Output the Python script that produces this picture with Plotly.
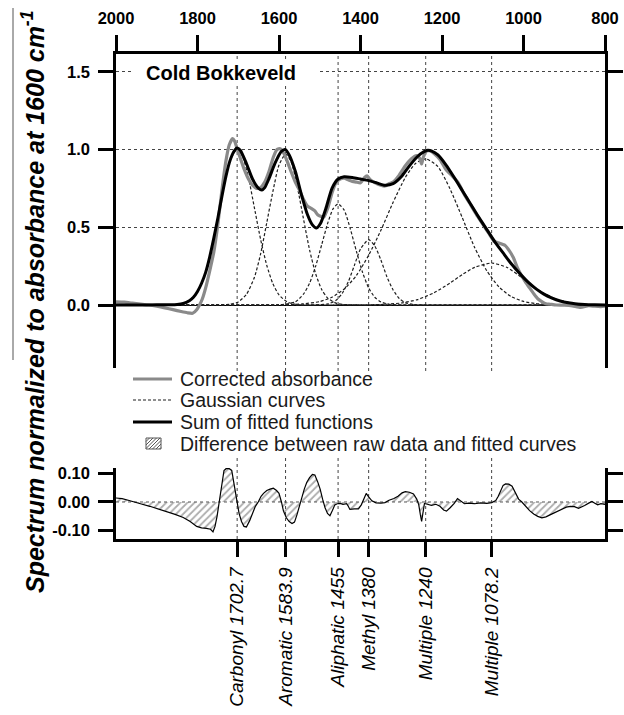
import plotly.graph_objects as go

# ---------------- data ----------------
top_ticks = [2000, 1800, 1600, 1400, 1200, 1000, 800]

peak_wn = [1702.7, 1583.9, 1455, 1380, 1240, 1078.2]
peak_names = ["Carbonyl", "Aromatic", "Aliphatic", "Methyl", "Multiple", "Multiple"]

# corrected absorbance (grey)
gray_wn = [2000, 1980, 1960, 1940, 1920, 1900, 1880, 1860, 1840, 1825, 1812, 1802, 1795, 1788,
           1780, 1770, 1760, 1750, 1740, 1730, 1722, 1714, 1709, 1704, 1695, 1685, 1675, 1665,
           1655, 1645, 1635, 1625, 1614, 1605, 1597, 1588, 1580, 1570, 1560, 1550, 1540, 1530,
           1520, 1512, 1505, 1498, 1490, 1480, 1470, 1460, 1450, 1440, 1430, 1420, 1410, 1400,
           1391, 1384, 1376, 1365, 1350, 1340, 1330, 1320, 1305, 1290, 1275, 1262, 1255, 1250,
           1246, 1238, 1228, 1218, 1205, 1190, 1175, 1160, 1145, 1130, 1115, 1100, 1085, 1072,
           1062, 1052, 1045, 1035, 1025, 1015, 1005, 995, 985, 975, 965, 955, 945, 935, 920,
           900, 880, 860, 840, 825, 810, 800]
gray_abs = [0.020, 0.018, 0.012, 0.006, 0.000, -0.008, -0.018, -0.030, -0.042, -0.050, -0.053,
            -0.030, 0.000, 0.040, 0.110, 0.220, 0.340, 0.520, 0.740, 0.930, 1.030, 1.070, 1.055,
            1.015, 0.945, 0.870, 0.810, 0.770, 0.750, 0.755, 0.790, 0.855, 0.950, 1.000, 1.005,
            0.975, 0.925, 0.855, 0.790, 0.740, 0.680, 0.635, 0.620, 0.605, 0.580, 0.570, 0.565,
            0.625, 0.720, 0.787, 0.810, 0.815, 0.805, 0.795, 0.790, 0.786, 0.817, 0.830, 0.805,
            0.787, 0.770, 0.765, 0.780, 0.790, 0.835, 0.895, 0.940, 0.960, 0.945, 0.907, 0.950,
            0.990, 0.990, 0.970, 0.935, 0.870, 0.830, 0.785, 0.710, 0.645, 0.580, 0.520, 0.460,
            0.410, 0.400, 0.390, 0.383, 0.350, 0.305, 0.240, 0.190, 0.148, 0.110, 0.073, 0.040,
            0.022, 0.008, 0.005, 0.000, -0.001, -0.005, -0.015, -0.004, -0.008, -0.010, -0.008]

# sum of fitted functions (black)
fit_wn = [2000, 1950, 1900, 1870, 1850, 1835, 1820, 1810, 1800, 1790, 1780, 1770, 1760, 1750,
          1740, 1730, 1720, 1710, 1703, 1695, 1680, 1665, 1650, 1642, 1635, 1625, 1610, 1595,
          1585, 1575, 1560, 1545, 1530, 1518, 1508, 1498, 1485, 1470, 1455, 1440, 1420, 1400,
          1380, 1360, 1340, 1320, 1300, 1280, 1260, 1245, 1235, 1225, 1210, 1190, 1170, 1150,
          1130, 1110, 1090, 1070, 1050, 1030, 1010, 990, 970, 950, 930, 910, 890, 870, 850,
          825, 800]
fit_sum = [0.000, 0.000, 0.001, 0.002, 0.004, 0.010, 0.028, 0.050, 0.087, 0.140, 0.210, 0.310,
           0.430, 0.560, 0.700, 0.830, 0.930, 0.990, 1.010, 0.995, 0.910, 0.810, 0.750, 0.740,
           0.755, 0.810, 0.910, 0.985, 1.000, 0.965, 0.860, 0.710, 0.580, 0.515, 0.495, 0.525,
           0.620, 0.750, 0.810, 0.825, 0.820, 0.810, 0.800, 0.785, 0.770, 0.780, 0.825, 0.895,
           0.955, 0.985, 0.995, 0.990, 0.965, 0.900, 0.820, 0.735, 0.650, 0.565, 0.485, 0.405,
           0.335, 0.265, 0.205, 0.150, 0.105, 0.070, 0.045, 0.026, 0.014, 0.007, 0.003, 0.001,
           0.000]

# Gaussian components (dotted)
g1_wn = [2000, 1880, 1860, 1840, 1820, 1800, 1780, 1760, 1740, 1720, 1703, 1690, 1675, 1660,
         1645, 1630, 1615, 1600, 1580, 1560, 1540, 1500, 800]
g1 = [0, 0, 0.002, 0.007, 0.028, 0.087, 0.21, 0.43, 0.70, 0.93, 1.0, 0.96, 0.82, 0.62, 0.42,
      0.255, 0.137, 0.065, 0.02, 0.005, 0, 0, 0]
g2_wn = [2000, 1760, 1720, 1700, 1680, 1660, 1645, 1630, 1615, 1600, 1584, 1570, 1555, 1540,
         1525, 1510, 1495, 1480, 1460, 1440, 1400, 800]
g2 = [0, 0, 0.005, 0.02, 0.068, 0.18, 0.33, 0.53, 0.73, 0.90, 0.97, 0.92, 0.76, 0.555, 0.355,
      0.20, 0.098, 0.043, 0.012, 0.003, 0, 0]
g3_wn = [2000, 1640, 1600, 1560, 1540, 1525, 1510, 1495, 1480, 1467, 1455, 1440, 1425, 1410,
         1395, 1380, 1365, 1350, 1330, 1300, 1260, 800]
g3 = [0, 0, 0.001, 0.02, 0.07, 0.14, 0.25, 0.39, 0.53, 0.62, 0.65, 0.61, 0.49, 0.345, 0.21,
      0.11, 0.05, 0.02, 0.005, 0, 0, 0]
g4_wn = [2000, 1560, 1520, 1480, 1460, 1445, 1430, 1415, 1400, 1380, 1365, 1350, 1335, 1320,
         1305, 1290, 1270, 1240, 1200, 800]
g4 = [0, 0, 0.001, 0.007, 0.03, 0.075, 0.15, 0.255, 0.36, 0.42, 0.38, 0.29, 0.18, 0.097,
      0.042, 0.015, 0.003, 0, 0, 0]
g5_wn = [2000, 1600, 1540, 1500, 1470, 1440, 1410, 1380, 1350, 1320, 1290, 1265, 1240, 1210,
         1180, 1150, 1120, 1090, 1060, 1030, 1000, 970, 930, 900, 860, 800]
g5 = [0, 0, 0.008, 0.022, 0.05, 0.103, 0.19, 0.32, 0.48, 0.66, 0.82, 0.91, 0.94, 0.89, 0.745,
      0.56, 0.37, 0.22, 0.116, 0.054, 0.023, 0.009, 0.002, 0, 0, 0]
g6_wn = [2000, 1500, 1400, 1350, 1300, 1260, 1220, 1180, 1150, 1120, 1078, 1040, 1000, 960,
         920, 880, 840, 800]
g6 = [0, 0, 0.001, 0.003, 0.013, 0.035, 0.078, 0.142, 0.196, 0.242, 0.27, 0.241, 0.168, 0.091,
      0.038, 0.013, 0.003, 0.001]

# difference between raw data and fitted curves (bottom panel)
diff_wn = [2000, 1985, 1970, 1957, 1940, 1917, 1895, 1876, 1855, 1835, 1818, 1802, 1790, 1778,
           1768, 1762, 1757, 1752, 1746, 1740, 1735, 1730, 1722, 1716, 1710, 1704, 1698, 1692,
           1686, 1680, 1672, 1665, 1658, 1651, 1644, 1638, 1630, 1622, 1614, 1606, 1600, 1594,
           1589, 1582, 1575, 1568, 1562, 1556, 1550, 1544, 1538, 1532, 1525, 1518, 1512, 1505,
           1499, 1493, 1487, 1481, 1475, 1469, 1463, 1457, 1450, 1443, 1434, 1430, 1426, 1415,
           1405, 1398, 1392, 1386, 1380, 1372, 1362, 1350, 1340, 1330, 1318, 1308, 1298, 1290,
           1280, 1270, 1262, 1257, 1253, 1250, 1247, 1243, 1236, 1226, 1215, 1205, 1196, 1189,
           1180, 1170, 1162, 1155, 1145, 1135, 1120, 1105, 1090, 1078, 1068, 1062, 1056, 1050,
           1044, 1036, 1028, 1020, 1012, 1004, 995, 985, 975, 965, 955, 945, 935, 925, 915, 905,
           895, 885, 875, 865, 858, 850, 840, 832, 825, 818, 810, 800]
diff = [0.014, 0.012, 0.006, 0.000, -0.006, -0.015, -0.024, -0.032, -0.043, -0.054, -0.068,
        -0.085, -0.090, -0.092, -0.095, -0.104, -0.085, -0.050, 0.010, 0.070, 0.110, 0.116,
        0.116, 0.110, 0.060, 0.000, -0.040, -0.068, -0.085, -0.087, -0.065, -0.040, -0.015,
        0.000, 0.020, 0.030, 0.040, 0.045, 0.048, 0.040, 0.030, 0.000, -0.032, -0.055, -0.068,
        -0.075, -0.070, -0.045, -0.015, 0.020, 0.045, 0.068, 0.085, 0.096, 0.094, 0.070, 0.045,
        0.010, -0.020, -0.040, -0.048, -0.030, -0.010, -0.006, -0.005, -0.008, -0.006, -0.015,
        -0.026, -0.024, -0.024, -0.010, 0.012, 0.030, 0.018, 0.004, -0.003, -0.004, -0.002,
        0.006, 0.012, 0.020, 0.032, 0.036, 0.034, 0.028, 0.010, -0.010, -0.045, -0.068, -0.040,
        -0.005, -0.008, -0.012, -0.008, -0.015, -0.028, -0.032, -0.020, -0.005, 0.012, 0.004,
        -0.006, -0.004, -0.006, -0.003, -0.005, -0.002, 0.005, 0.020, 0.042, 0.058, 0.063,
        0.062, 0.055, 0.030, 0.010, 0.000, -0.015, -0.030, -0.042, -0.050, -0.055, -0.052,
        -0.045, -0.038, -0.030, -0.024, -0.018, -0.015, -0.016, -0.022, -0.018, -0.012, -0.004,
        0.002, -0.004, -0.010, -0.006, -0.008]

legend_labels = ["Corrected absorbance", "Gaussian curves", "Sum of fitted functions",
                 "Difference between raw data and fitted curves"]
sample_name = "Cold Bokkeveld"

# ---------------- layout helpers ----------------
W, H = 624, 715
FONT = "Liberation Sans, Arial, sans-serif"


def px(x):
    return x / W


def py(y):
    return 1 - y / H


X_DOM = [px(116), px(605)]
TOP_DOM = [py(368), py(54)]
BOT_DOM = [py(539), py(468)]

fig = go.Figure()

gauss_style = dict(color="#1e1e1e", width=1.2, dash="3px,2px")
for gx, gy in [(g1_wn, g1), (g2_wn, g2), (g3_wn, g3), (g4_wn, g4), (g5_wn, g5), (g6_wn, g6)]:
    fig.add_trace(go.Scatter(x=gx, y=gy, mode="lines", line=dict(shape="spline", smoothing=0.6, **gauss_style),
                             showlegend=False, hoverinfo="skip", xaxis="x", yaxis="y"))

fig.add_trace(go.Scatter(x=gray_wn, y=gray_abs, mode="lines",
                         line=dict(color="#8a8a8a", width=3.2, shape="spline", smoothing=0.5),
                         showlegend=False, xaxis="x", yaxis="y"))
fig.add_trace(go.Scatter(x=fit_wn, y=fit_sum, mode="lines",
                         line=dict(color="black", width=3, shape="spline", smoothing=0.6),
                         showlegend=False, xaxis="x", yaxis="y"))

fig.add_trace(go.Scatter(x=diff_wn, y=diff, mode="lines", fill="tozeroy",
                         fillcolor="rgba(0,0,0,0)",
                         fillpattern=dict(shape="/", fgcolor="#5a5a5a", bgcolor="rgba(0,0,0,0)",
                                          size=5, solidity=0.35),
                         line=dict(color="black", width=1.2),
                         showlegend=False, xaxis="x2", yaxis="y2"))

shapes = []
# vertical dotted lines at peak positions spanning both panels
for w in peak_wn:
    shapes.append(dict(type="line", xref="x", yref="paper", x0=w, x1=w, y0=BOT_DOM[0], y1=TOP_DOM[1],
                       line=dict(color="#444444", width=1, dash="dot"), layer="below"))
# dotted zero line in the difference panel
shapes.append(dict(type="line", xref="x2", yref="y2", x0=2000, x1=800, y0=0, y1=0,
                   line=dict(color="#555555", width=1, dash="dot"), layer="below"))
# white backgrounds for legend and sample label
shapes.append(dict(type="rect", xref="paper", yref="paper", x0=px(125), x1=px(592), y0=py(457), y1=py(371),
                   fillcolor="white", line=dict(width=0), layer="above"))
shapes.append(dict(type="rect", xref="paper", yref="paper", x0=px(131), x1=px(320), y0=py(86), y1=py(60),
                   fillcolor="white", line=dict(width=0), layer="above"))
# legend samples
rows = [379, 400, 422, 444]
shapes.append(dict(type="line", xref="paper", yref="paper", x0=px(133), x1=px(172), y0=py(rows[0]), y1=py(rows[0]),
                   line=dict(color="#8a8a8a", width=3.2), layer="above"))
shapes.append(dict(type="line", xref="paper", yref="paper", x0=px(133), x1=px(172), y0=py(rows[1]), y1=py(rows[1]),
                   line=dict(color="#1e1e1e", width=1.2, dash="3px,2px"), layer="above"))
shapes.append(dict(type="line", xref="paper", yref="paper", x0=px(133), x1=px(172), y0=py(rows[2]), y1=py(rows[2]),
                   line=dict(color="black", width=3), layer="above"))
bx0, bx1, by0, by1 = 146, 161, rows[3] - 6, rows[3] + 5
shapes.append(dict(type="rect", xref="paper", yref="paper", x0=px(bx0), x1=px(bx1), y0=py(by1), y1=py(by0),
                   fillcolor="white", line=dict(color="#555555", width=1), layer="above"))
path = ""
step = 3.5
k = bx0 - (by1 - by0)
while k < bx1:
    h = by1 - by0
    xa, ya, xb, yb = k, by1, k + h, by0
    if xa < bx0:
        ya = by1 - (bx0 - xa)
        xa = bx0
    if xb > bx1:
        yb = by0 + (xb - bx1)
        xb = bx1
    if xb > xa:
        path += f"M{px(xa)},{py(ya)} L{px(xb)},{py(yb)} "
    k += step
shapes.append(dict(type="path", xref="paper", yref="paper", path=path,
                   line=dict(color="#555555", width=1), layer="above"))
# thin line beside the y-axis title (as in the reference scan)
shapes.append(dict(type="line", xref="paper", yref="paper", x0=px(13), x1=px(13), y0=py(360), y1=py(8),
                   line=dict(color="#555555", width=1), layer="above"))

annotations = []
for r, lab in zip(rows, legend_labels):
    annotations.append(dict(xref="paper", yref="paper", x=px(178), y=py(r), xanchor="left", yanchor="middle",
                            text=lab, showarrow=False, font=dict(family=FONT, size=19.5, color="#1a1a1a")))
annotations.append(dict(xref="paper", yref="paper", x=px(144), y=py(73), xanchor="left", yanchor="middle",
                        text=sample_name, showarrow=False,
                        font=dict(family=FONT, size=20, color="black", weight="bold")))
annotations.append(dict(xref="paper", yref="paper", x=px(33), y=py(302), xanchor="center", yanchor="middle",
                        textangle=-90, showarrow=False,
                        text="<i>Spectrum normalized to absorbance at 1600 cm<sup>-1</sup></i>",
                        font=dict(family=FONT, size=25, color="black", weight="bold")))

tickfont_bold = dict(family=FONT, size=16.5, color="black", weight="bold")
axis_common = dict(showline=True, linecolor="black", linewidth=2.5, ticks="outside", tickwidth=2.5,
                   tickcolor="black", automargin=False)

fig.update_layout(
    width=W, height=H, margin=dict(l=0, r=0, t=0, b=0),
    paper_bgcolor="white", plot_bgcolor="white",
    font=dict(family=FONT, color="black"),
    showlegend=False,
    xaxis=dict(domain=X_DOM, range=[2000, 800], anchor="y", side="top", tickmode="array",
               tickvals=top_ticks, ticktext=[str(t) for t in top_ticks], ticklen=16,
               tickfont=tickfont_bold, showgrid=False, zeroline=False, ticklabelstandoff=5,
               **axis_common),
    yaxis=dict(domain=TOP_DOM, range=[-0.405, 1.614], anchor="x", tickmode="array",
               tickvals=[0, 0.5, 1.0, 1.5], ticktext=["0.0", "0.5", "1.0", "1.5"], ticklen=15,
               mirror="ticks", tickfont=tickfont_bold, showgrid=True, gridcolor="#444444",
               griddash="dot", gridwidth=1, zeroline=True, zerolinecolor="black", zerolinewidth=1,
               ticklabelstandoff=5, **axis_common),
    xaxis2=dict(domain=X_DOM, range=[2000, 800], anchor="y2", side="bottom", tickmode="array",
                tickvals=peak_wn,
                ticktext=[f"<i>{n} {w:g}</i>" for n, w in zip(peak_names, peak_wn)],
                tickangle=-90, ticklen=15, showgrid=False, zeroline=False,
                tickfont=dict(family=FONT, size=19, color="black"), ticklabelstandoff=3,
                **axis_common),
    yaxis2=dict(domain=BOT_DOM, range=[-0.129, 0.1185], anchor="x2", tickmode="array",
                tickvals=[-0.1, 0, 0.1], ticktext=["-0.10", "0.00", "0.10"], ticklen=15,
                mirror="ticks", tickfont=tickfont_bold, showgrid=False, zeroline=False,
                ticklabelstandoff=5, **axis_common),
    shapes=shapes,
    annotations=annotations,
)

fig.write_html("out.html")
